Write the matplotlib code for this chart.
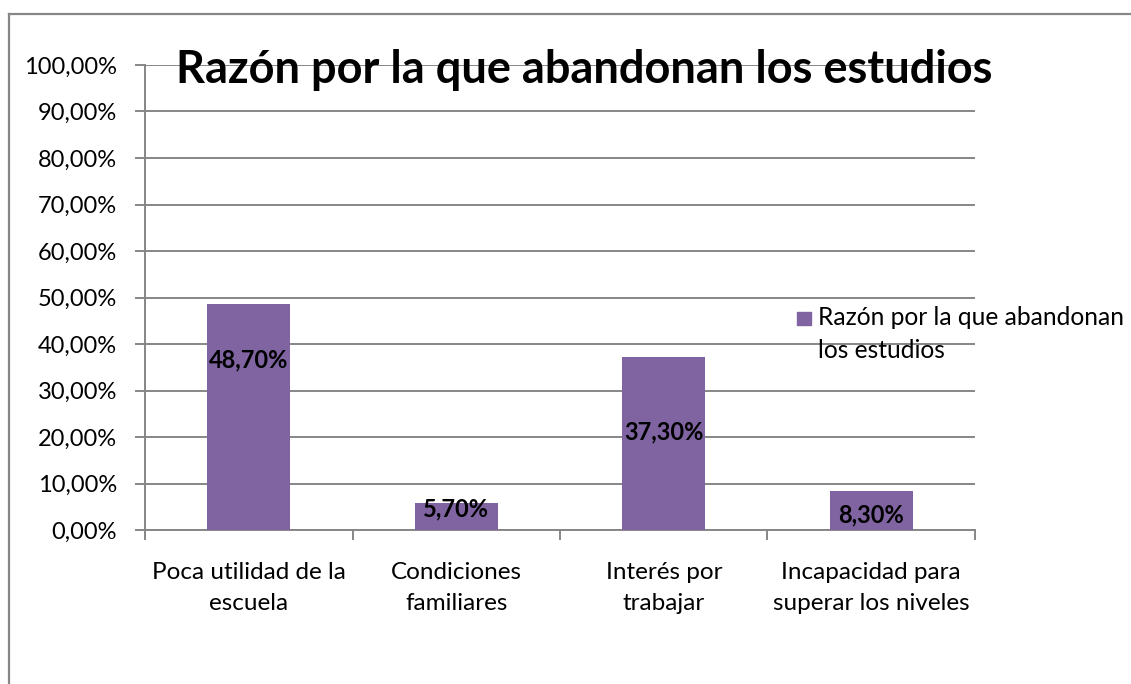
from matplotlib import pyplot as plt
from matplotlib.patches import Rectangle
from matplotlib.lines import Line2D
import textwrap

plt.rcParams['font.family'] = ['Lato', 'DejaVu Sans']

title = 'Razón por la que abandonan los estudios'
series_name = 'Razón por la que abandonan los estudios'
categories = ['Poca utilidad de la\nescuela', 'Condiciones\nfamiliares',
              'Interés por\ntrabajar', 'Incapacidad para\nsuperar los niveles']
values = [48.7, 5.7, 37.3, 8.3]
value_labels = ['48,70%', '5,70%', '37,30%', '8,30%']
# where Excel put each data label (in % units on the y scale)
label_pos = [36.6, 4.6, 21.1, 3.3]
yticks = [0, 10, 20, 30, 40, 50, 60, 70, 80, 90, 100]

purple = '#8064A2'
grid_col = '#868686'

W, H = 1131, 684
fig = plt.figure(figsize=(W / 100, H / 100), dpi=100)
ax = fig.add_axes([145 / W, 1 - 530 / H, 830 / W, 465 / H])

xs = list(range(len(values)))
ax.bar(xs, values, width=0.40, color=purple, zorder=3)
for x, txt, y in zip(xs, value_labels, label_pos):
    ax.text(x, y, txt, ha='center', va='center', fontsize=17,
            fontweight='bold', color='black', zorder=4)

ax.set_xlim(-0.5, len(values) - 0.5)
ax.set_ylim(0, 100)
ax.set_yticks(yticks)
ax.set_yticklabels([f'{t},00%' for t in yticks])
ax.yaxis.grid(True, color=grid_col, linewidth=1.4, zorder=0)
ax.set_axisbelow(True)

ax.set_xticks(xs)
ax.set_xticklabels(categories, fontsize=17.5, linespacing=1.6)
ax.set_xticks([x - 0.5 for x in range(len(values) + 1)], minor=True)
ax.tick_params(axis='x', which='major', length=0, pad=23)
ax.tick_params(axis='x', which='minor', length=7, width=1.4, color=grid_col)
ax.tick_params(axis='y', length=7, width=1.4, color=grid_col, pad=13,
               labelsize=17)

for side in ['top', 'right']:
    ax.spines[side].set_visible(False)
ax.spines['left'].set_color(grid_col)
ax.spines['bottom'].set_color(grid_col)
ax.spines['left'].set_linewidth(1.4)
ax.spines['bottom'].set_linewidth(1.4)

fig.text(584 / W, 1 - 83 / H, title, ha='center', va='baseline',
         fontsize=32.5, fontweight='bold', zorder=5)

# legend
fig.add_artist(Rectangle((797 / W, 1 - 325 / H), 14 / W, 13 / H,
                         transform=fig.transFigure, color=purple))
fig.text(818 / W, 1 - 306 / H, textwrap.fill(series_name, 26),
         ha='left', va='top', fontsize=17.7, linespacing=1.5)

# chart area border
fig.add_artist(Line2D([9 / W, 1], [1 - 14 / H, 1 - 14 / H],
                      transform=fig.transFigure, color='#878787', lw=1.6))
fig.add_artist(Line2D([9 / W, 9 / W], [0, 1 - 14 / H],
                      transform=fig.transFigure, color='#878787', lw=1.6))

fig.savefig('out.png', dpi=100)
